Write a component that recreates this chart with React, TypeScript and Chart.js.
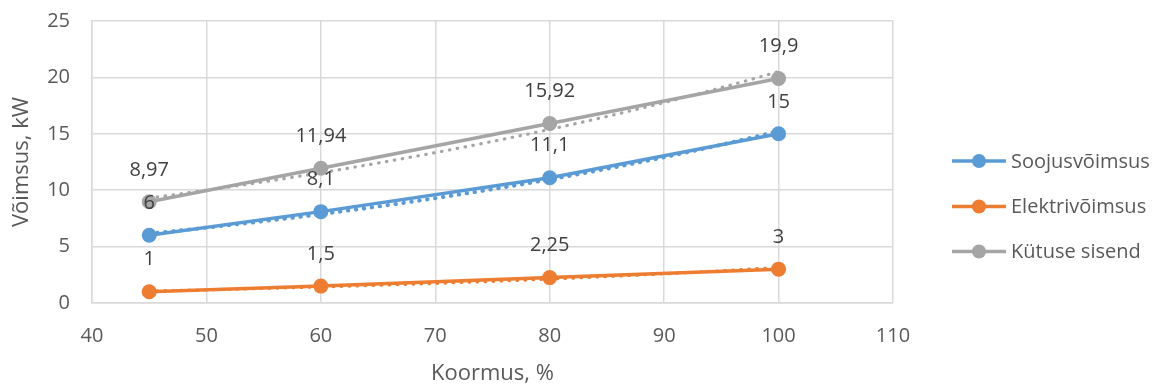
import React, { useEffect, useRef } from "react";
import { Chart, registerables } from "chart.js";

Chart.register(...registerables);

// ---- data ----
const loadPct = [45, 60, 80, 100];
const soojusvoimsus = [6, 8.1, 11.1, 15];
const elektrivoimsus = [1, 1.5, 2.25, 3];
const kytuseSisend = [8.97, 11.94, 15.92, 19.9];
const seriesNames = ["Soojusvõimsus", "Elektrivõimsus", "Kütuse sisend"];
const seriesColors = ["#5B9BD5", "#ED7D31", "#A5A5A5"];
const xAxisTitle = "Koormus, %";
const yAxisTitle = "Võimsus, kW";
const xMin = 40, xMax = 110, xStep = 10;
const yMin = 0, yMax = 25, yStep = 5;

const FONT = "'Open Sans', sans-serif";
const TEXT = "#595959";

const fmt = (v: number) => String(v).replace(".", ",");

// exponential trendline (least squares on ln y), as Excel does
function expFit(xs: number[], ys: number[]) {
  const n = xs.length;
  const ly = ys.map((y) => Math.log(y));
  const mx = xs.reduce((a, b) => a + b, 0) / n;
  const my = ly.reduce((a, b) => a + b, 0) / n;
  let sxy = 0, sxx = 0;
  for (let i = 0; i < n; i++) {
    sxy += (xs[i] - mx) * (ly[i] - my);
    sxx += (xs[i] - mx) * (xs[i] - mx);
  }
  const b = sxy / sxx;
  const lnA = my - b * mx;
  return (x: number) => Math.exp(lnA + b * x);
}

const allSeries = [soojusvoimsus, elektrivoimsus, kytuseSisend];

const overlayPlugin = {
  id: "overlay",
  afterDatasetsDraw(chart: any) {
    const ctx = chart.ctx;
    const xs = chart.scales.x;
    const ys = chart.scales.y;
    // trendlines
    allSeries.forEach((vals, si) => {
      const f = expFit(loadPct, vals);
      const x0 = Math.min(...loadPct);
      const x1 = Math.max(...loadPct);
      const p0 = xs.getPixelForValue(x0);
      const p1 = xs.getPixelForValue(x1);
      ctx.save();
      ctx.strokeStyle = seriesColors[si];
      ctx.lineWidth = si === 0 ? 4 : 3.2;
      ctx.lineCap = "round";
      ctx.setLineDash([0.5, 7.5]);
      ctx.beginPath();
      for (let px = p0; px <= p1 + 0.01; px += 1) {
        const xv = xs.getValueForPixel(px);
        const py = ys.getPixelForValue(f(xv));
        if (px === p0) ctx.moveTo(px, py);
        else ctx.lineTo(px, py);
      }
      ctx.stroke();
      ctx.restore();
    });
  },
  afterDraw(chart: any) {
    const ctx = chart.ctx;
    const xs = chart.scales.x;
    const ys = chart.scales.y;
    const area = chart.chartArea;
    ctx.save();
    // data labels
    ctx.font = `20px ${FONT}`;
    ctx.fillStyle = "#404040";
    ctx.textAlign = "center";
    ctx.textBaseline = "middle";
    allSeries.forEach((vals) => {
      vals.forEach((v, i) => {
        const px = xs.getPixelForValue(loadPct[i]);
        const py = ys.getPixelForValue(v);
        ctx.fillText(fmt(v), px, py - 32);
      });
    });
    // axis titles
    ctx.fillStyle = TEXT;
    ctx.font = `22px ${FONT}`;
    ctx.fillText(xAxisTitle, (area.left + area.right) / 2, 374);
    ctx.save();
    ctx.translate(22, (area.top + area.bottom) / 2);
    ctx.rotate(-Math.PI / 2);
    ctx.fillText(yAxisTitle, 0, 0);
    ctx.restore();
    // legend
    const legendY = [161, 206.5, 251.5];
    seriesNames.forEach((name, i) => {
      const y = legendY[i];
      ctx.strokeStyle = seriesColors[i];
      ctx.lineWidth = 3.5;
      ctx.lineCap = "butt";
      ctx.setLineDash([]);
      ctx.beginPath();
      ctx.moveTo(952, y);
      ctx.lineTo(1006, y);
      ctx.stroke();
      ctx.fillStyle = seriesColors[i];
      ctx.beginPath();
      ctx.arc(979, y, 7, 0, Math.PI * 2);
      ctx.fill();
      ctx.fillStyle = TEXT;
      ctx.font = `20px ${FONT}`;
      ctx.textAlign = "left";
      ctx.fillText(name, 1011, y + 1);
    });
    ctx.restore();
  },
};

export default function App() {
  const ref = useRef<HTMLCanvasElement>(null);
  useEffect(() => {
    document.body.style.margin = "0";
    const canvas = ref.current!;
    const chart = new Chart(canvas, {
      type: "scatter",
      data: {
        datasets: allSeries.map((vals, i) => ({
          label: seriesNames[i],
          data: vals.map((v, j) => ({ x: loadPct[j], y: v })),
          showLine: true,
          borderColor: seriesColors[i],
          backgroundColor: seriesColors[i],
          borderWidth: 3.5,
          pointRadius: 7.5,
          pointHoverRadius: 7.5,
          pointBorderWidth: 0,
          tension: 0,
        })),
      },
      options: {
        animation: false,
        responsive: false,
        devicePixelRatio: 1,
        layout: { padding: { left: 0, top: 21, right: 261, bottom: 0 } },
        plugins: { legend: { display: false }, tooltip: { enabled: false } },
        scales: {
          x: {
            type: "linear",
            min: xMin,
            max: xMax,
            ticks: {
              stepSize: xStep,
              color: TEXT,
              font: { family: FONT, size: 20 },
              padding: 21,
            },
            grid: { color: "#D9D9D9", lineWidth: 1.5, drawTicks: false },
            border: { color: "#D9D9D9", width: 1.5 },
            afterFit: (s: any) => {
              s.height = 82;
              s.paddingLeft = 0;
              s.paddingRight = 0;
            },
          },
          y: {
            type: "linear",
            min: yMin,
            max: yMax,
            ticks: {
              stepSize: yStep,
              color: TEXT,
              font: { family: FONT, size: 20 },
              padding: 22,
            },
            grid: { color: "#D9D9D9", lineWidth: 1.5, drawTicks: false },
            border: { color: "#D9D9D9", width: 1.5 },
            afterFit: (s: any) => {
              s.width = 92;
              s.paddingTop = 0;
              s.paddingBottom = 0;
            },
          },
        },
      },
      plugins: [overlayPlugin],
    } as any);
    return () => chart.destroy();
  }, []);
  return (
    <div style={{ width: 1154, height: 385, background: "#fff" }}>
      <canvas ref={ref} width={1154} height={385} style={{ display: "block" }} />
    </div>
  );
}
